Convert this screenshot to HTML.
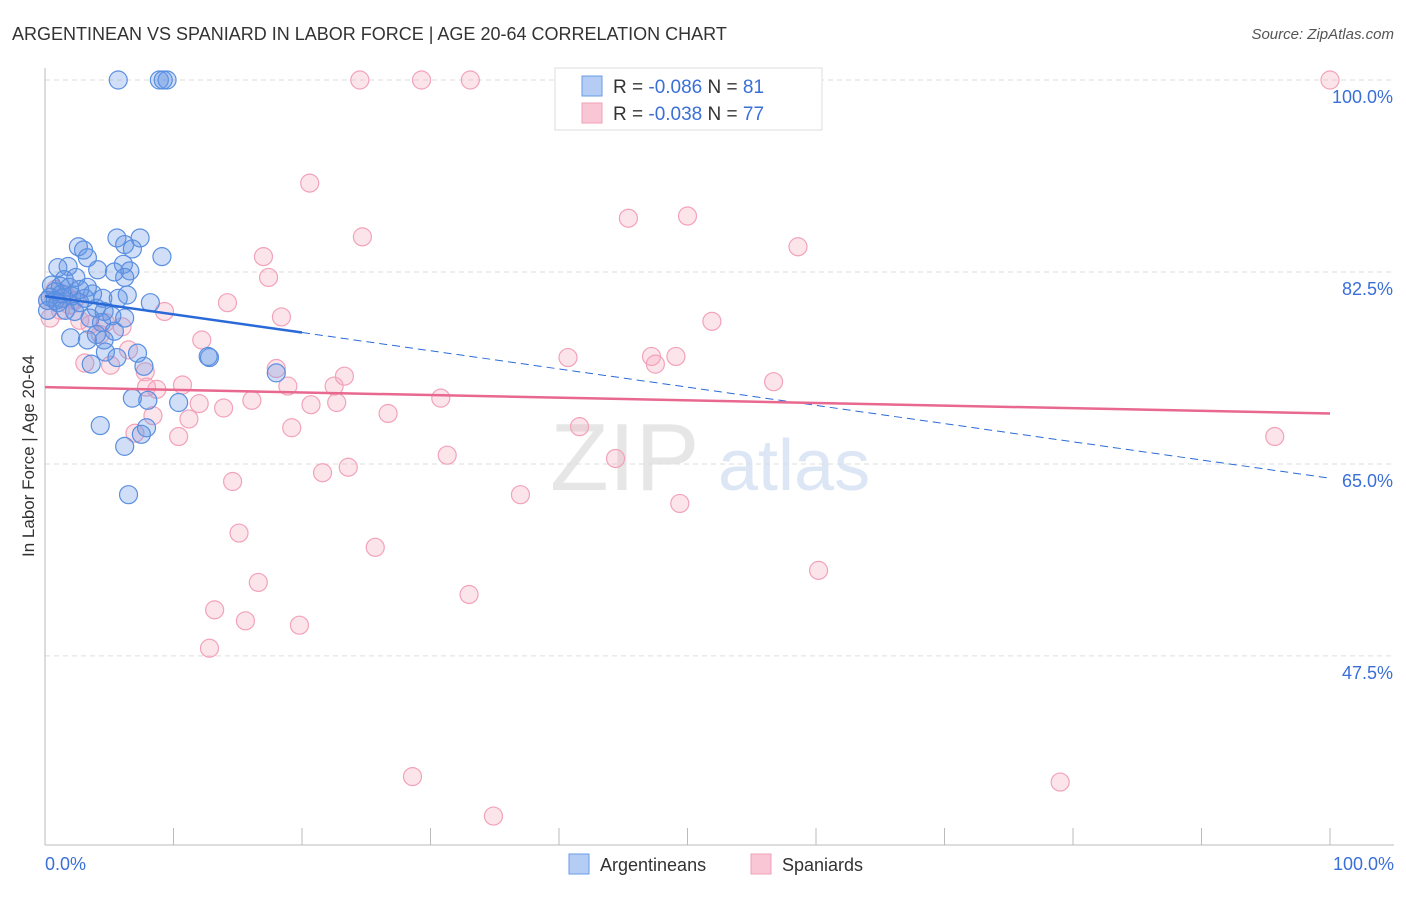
<!DOCTYPE html>
<html><head><meta charset="utf-8"><style>
body{margin:0;background:#fff;font-family:"Liberation Sans",sans-serif;}
svg text{font-family:"Liberation Sans",sans-serif;}
</style></head><body>
<svg width="1406" height="892" xmlns="http://www.w3.org/2000/svg">
<text x="12" y="40" font-size="18" fill="#333">ARGENTINEAN VS SPANIARD IN LABOR FORCE | AGE 20-64 CORRELATION CHART</text>
<text x="1394" y="39" font-size="15" fill="#555" font-style="italic" text-anchor="end">Source: ZipAtlas.com</text>
<text x="550" y="490" font-size="96" fill="#e6e6e6" font-family="Liberation Serif">ZIP</text>
<text x="718" y="490" font-size="72" fill="#dce6f5">atlas</text>
<g id="grid"></g>
<g id="axes"></g>
<g id="pts"></g>
<g id="trends"></g>
<text x="34" y="456" font-size="17" fill="#333" text-anchor="middle" transform="rotate(-90 34 456)">In Labor Force | Age 20-64</text>
<text x="45" y="870" font-size="18" fill="#3a6fd8">0.0%</text>
<text x="1394" y="870" font-size="18" fill="#3a6fd8" text-anchor="end">100.0%</text>
<g>
<rect x="555" y="68" width="267" height="62" fill="#fff" stroke="#ddd"/>
<rect x="582" y="76" width="20" height="20" fill="#b5cdf5" stroke="#6a9be6"/>
<rect x="582" y="103" width="20" height="20" fill="#f9c6d5" stroke="#f0a0b8"/>
<text x="613" y="93" font-size="19" fill="#333">R = <tspan fill="#3a6fd8">-0.086</tspan>   N = <tspan fill="#3a6fd8">81</tspan></text>
<text x="613" y="120" font-size="19" fill="#333">R = <tspan fill="#3a6fd8">-0.038</tspan>   N = <tspan fill="#3a6fd8">77</tspan></text>
</g>
<g>
<rect x="569" y="854" width="20" height="20" fill="#b5cdf5" stroke="#6a9be6"/>
<text x="600" y="871" font-size="18" fill="#333">Argentineans</text>
<rect x="751" y="854" width="20" height="20" fill="#f9c6d5" stroke="#f0a0b8"/>
<text x="782" y="871" font-size="18" fill="#333">Spaniards</text>
</g>
</svg>
<script>
const yTicks=[100,82.5,65,47.5];
const yTickLabels=["100.0%","82.5%","65.0%","47.5%"];
const blueX=[5.7,8.9,9.2,9.5,5.6,7.4,6.2,6.8,2.6,3.0,3.3,9.1,6.1,1.0,1.8,4.1,6.6,5.4,6.2,1.5,2.4,0.5,1.2,1.9,3.3,0.8,1.3,0.4,2.1,3.7,4.5,5.7,6.4,8.2,2.7,4.0,4.6,3.5,5.2,6.2,4.4,5.4,4.0,2.0,3.3,4.6,4.7,7.2,5.6,12.7,12.8,3.6,7.7,18.0,6.8,10.4,8.0,4.3,7.9,7.5,6.2,6.5,0.2,0.8,1.3,0.2,1.0,1.6,2.3,2.7,3.1];
const blueY=[100,100,100,100,85.6,85.6,85.0,84.6,84.8,84.5,83.8,83.9,83.2,82.9,83.0,82.7,82.6,82.5,82.0,81.8,82.0,81.3,81.2,81.1,81.1,80.7,80.5,80.2,80.3,80.5,80.1,80.1,80.4,79.7,79.7,79.2,78.9,78.3,78.5,78.3,77.9,77.1,76.8,76.5,76.3,76.3,75.2,75.1,74.7,74.8,74.7,74.1,73.9,73.3,71.0,70.6,70.8,68.5,68.3,67.7,66.6,62.2,79.9,79.9,80.1,79.0,79.7,79.0,78.9,80.9,80.1];
const pinkX=[24.5,29.3,33.1,100,20.6,24.7,45.4,50.0,58.6,17.0,17.4,14.2,18.4,9.3,51.9,6.0,12.2,4.3,3.5,2.7,4.7,18.0,40.7,47.2,49.1,47.5,6.5,5.1,3.1,7.8,7.9,8.7,10.7,18.9,22.5,23.3,56.7,30.8,22.7,20.7,16.1,13.9,12.0,11.2,10.4,7.0,8.4,26.7,41.6,19.2,31.3,44.4,21.6,23.6,14.6,37.0,49.4,15.1,25.7,16.6,60.2,33.0,13.2,15.6,19.8,12.8,28.6,79.0,34.9,95.7,0.4,1.2,1.9,0.2,1.6,0.8,2.3];
const pinkY=[100,100,100,100,90.6,85.7,87.4,87.6,84.8,83.9,82.0,79.7,78.4,78.9,78.0,77.5,76.3,76.8,77.7,78.1,77.9,73.7,74.7,74.8,74.8,74.1,75.4,74.0,74.2,73.4,72.0,71.8,72.2,72.1,72.1,73.0,72.5,71.0,70.6,70.4,70.8,70.1,70.5,69.1,67.5,67.8,69.4,69.6,68.4,68.3,65.8,65.5,64.2,64.7,63.4,62.2,61.4,58.7,57.4,54.2,55.3,53.1,51.7,50.7,50.3,48.2,36.5,36.0,32.9,67.5,78.3,79.0,79.5,79.9,80.4,80.9,79.9];
const blueTrend=[80.3,63.7];
const pinkTrend=[72.0,69.6];
const NS="http://www.w3.org/2000/svg";
function sx(v){return 45+v*12.85;}
function sy(v){return 80+(100-v)*10.97;}
function mk(tag,attrs,parent){const e=document.createElementNS(NS,tag);for(const k in attrs)e.setAttribute(k,attrs[k]);document.getElementById(parent).appendChild(e);return e;}
yTicks.forEach((t,i)=>{
 const l=mk('line',{x1:45,x2:1394,y1:sy(t),y2:sy(t),stroke:'#ddd','stroke-dasharray':'5,4'},'grid');
 
 
 const tx=mk('text',{x:1393,y:sy(t)+23,'font-size':18,fill:'#3a6fd8','text-anchor':'end'},'grid');
 tx.textContent=yTickLabels[i];
 
 
});
const ya=mk('line',{x1:45,x2:45,y1:68,y2:845,stroke:'#bbb'},'axes');


const xa=mk('line',{x1:45,x2:1394,y1:845,y2:845,stroke:'#bbb'},'axes');


for(let i=1;i<=10;i++){
 const t=mk('line',{x1:sx(i*10),x2:sx(i*10),y1:828,y2:845,stroke:'#bbb'},'axes');
 
 
}
pinkX.forEach((x,i)=>{
 const c=mk('circle',{cx:sx(x),cy:sy(pinkY[i]),r:9,fill:'rgba(245,165,190,0.3)',stroke:'#f2a2ba','stroke-width':1.2},'pts');
 
 
});
blueX.forEach((x,i)=>{
 const c=mk('circle',{cx:sx(x),cy:sy(blueY[i]),r:9,fill:'rgba(100,150,230,0.3)',stroke:'#5a8fe0','stroke-width':1.2},'pts');
 
 
});
const bx=20;
const bmid=blueTrend[0]+(blueTrend[1]-blueTrend[0])*bx/100;
const b1=mk('line',{x1:sx(0),y1:sy(blueTrend[0]),x2:sx(bx),y2:sy(bmid),stroke:'#2a6ad8','stroke-width':2.5},'trends');


const b2=mk('line',{x1:sx(bx),y1:sy(bmid),x2:sx(100),y2:sy(blueTrend[1]),stroke:'#2a6ad8','stroke-width':1,'stroke-dasharray':'8,5'},'trends');


const p1=mk('line',{x1:sx(0),y1:sy(pinkTrend[0]),x2:sx(100),y2:sy(pinkTrend[1]),stroke:'#e8688f','stroke-width':2.5},'trends');


</script>
</body></html>
